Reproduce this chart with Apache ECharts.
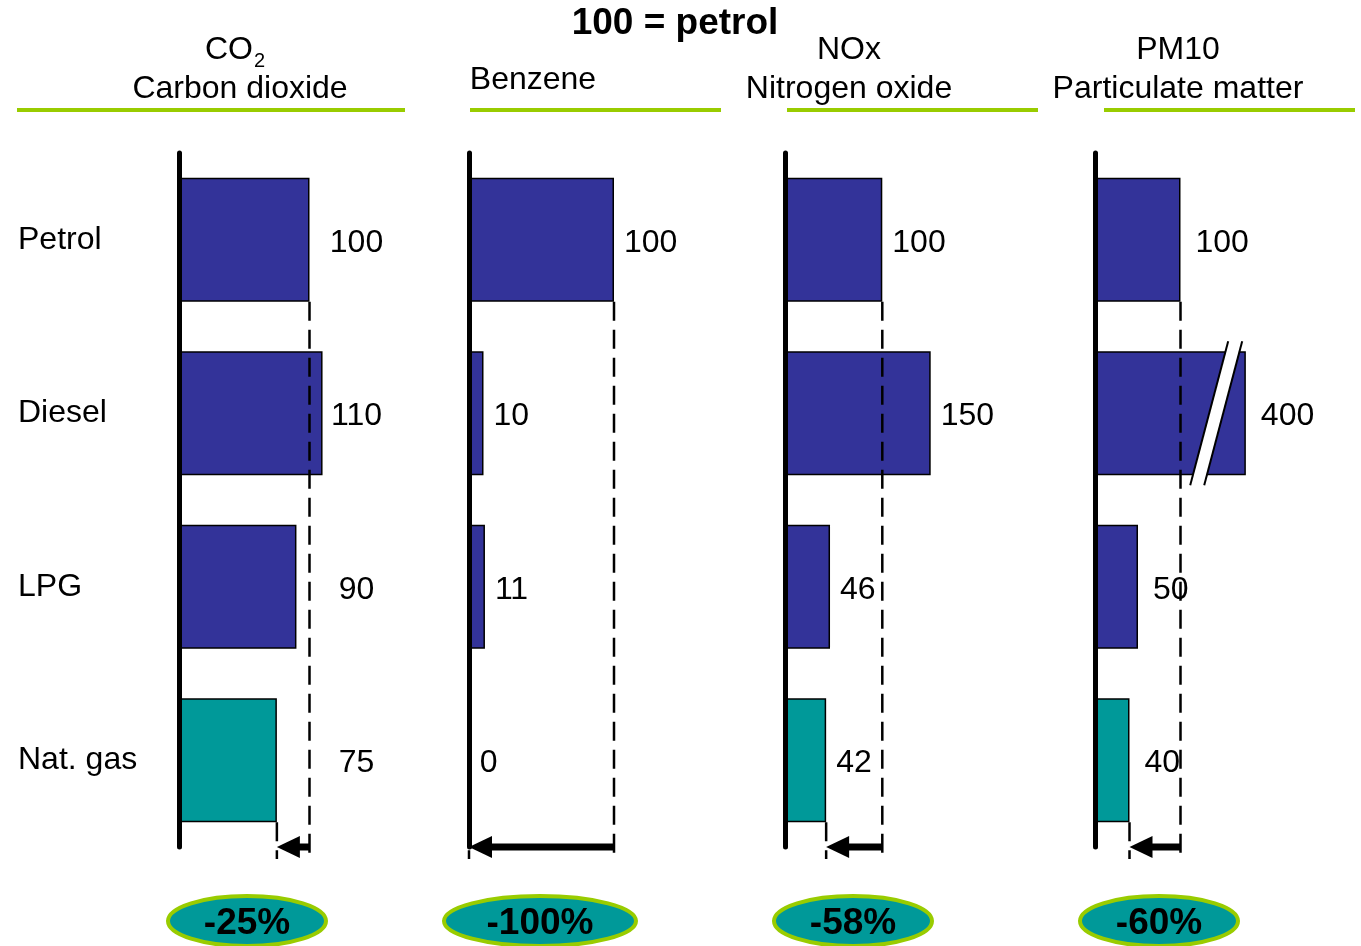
<!DOCTYPE html>
<html>
<head>
<meta charset="utf-8">
<script src="https://cdn.jsdelivr.net/npm/echarts@6/dist/echarts.min.js"></script>
<style>
html,body{margin:0;padding:0;background:#fff;}
#chart{width:1361px;height:946px;}
</style>
</head>
<body>
<div id="chart"></div>
<script>
// ---- data ----
const categories = ['Petrol', 'Diesel', 'LPG', 'Nat. gas'];
const co2 = [100, 110, 90, 75];
const benzene = [100, 10, 11, 0];
const nox = [100, 150, 46, 42];
const pm10 = [100, 400, 50, 40];
const reference = 100;           // 100 = petrol
const co2LabelColumn = 136;      // value position of the CO2 label column
const pm10BreakAt = 142;         // where the broken Diesel PM10 bar is cut

// ---- layout / style ----
const FONT = "'Liberation Sans', Arial, sans-serif";
const FS = 32;
const BLUE = '#333399';
const TEAL = '#009999';
const GREEN = '#99cc00';

const panels = [
  { values: co2,     left: 179,   pxPerUnit: 1.305, max: 150, labelMode: 'column' },
  { values: benzene, left: 469,   pxPerUnit: 1.45,  max: 110, labelMode: 'right', dist: 10 },
  { values: nox,     left: 785.5, pxPerUnit: 0.968, max: 160, labelMode: 'right', dist: 10 },
  { values: pm10,    left: 1095.5,pxPerUnit: 0.85,  max: 176, labelMode: 'right', dist: 15 }
];
const headers = [
  { lines: [null, 'Carbon dioxide'], x: 240 },
  { lines: ['Benzene'], x: 533, single: true },
  { lines: ['NOx', 'Nitrogen oxide'], x: 849 },
  { lines: ['PM10', 'Particulate matter'], x: 1178 }
];
const underlines = [[17, 405], [470, 721], [787, 1038], [1104, 1355]];
const ellipses = [{ cx: 247, rx: 79 }, { cx: 540, rx: 96 }, { cx: 853, rx: 79 }, { cx: 1159, rx: 79 }];

const grids = [], xAxes = [], yAxes = [], series = [];

function refRenderItem(params, api) {
  const ref = api.value(0), tgt = api.value(1);
  const band = api.size([0, 1])[1];
  const half = band * 0.3575;
  const pRef = api.coord([ref, 0]);
  const pTgt = api.coord([tgt, 3]);
  const yb = pTgt[1] + band / 2;
  const dash = { stroke: '#000', lineWidth: 2.5, lineDash: [19, 9], fill: null };
  return {
    type: 'group',
    children: [
      { type: 'line', shape: { x1: pRef[0], y1: pRef[1] + half, x2: pRef[0], y2: yb + 12 }, style: dash },
      { type: 'line', shape: { x1: pTgt[0], y1: pTgt[1] + half, x2: pTgt[0], y2: yb + 12 }, style: dash },
      { type: 'line', shape: { x1: pTgt[0] + 20, y1: yb, x2: pRef[0], y2: yb }, style: { stroke: '#000', lineWidth: 7 } },
      { type: 'polygon', shape: { points: [[pTgt[0], yb], [pTgt[0] + 23, yb - 11], [pTgt[0] + 23, yb + 11]] }, style: { fill: '#000' } }
    ]
  };
}

function breakRenderItem(params, api) {
  const c = api.coord([api.value(0), api.value(1)]);
  const band = api.size([0, 1])[1];
  const h = band * 0.415, skew = 19, gap = 7;
  const tl = [c[0] + skew - gap, c[1] - h], tr = [c[0] + skew + gap, c[1] - h];
  const bl = [c[0] - skew - gap, c[1] + h], br = [c[0] - skew + gap, c[1] + h];
  return {
    type: 'group',
    children: [
      { type: 'polygon', shape: { points: [tl, tr, br, bl] }, style: { fill: '#fff' } },
      { type: 'line', shape: { x1: tl[0], y1: tl[1], x2: bl[0], y2: bl[1] }, style: { stroke: '#000', lineWidth: 2 } },
      { type: 'line', shape: { x1: tr[0], y1: tr[1], x2: br[0], y2: br[1] }, style: { stroke: '#000', lineWidth: 2 } }
    ]
  };
}

panels.forEach((p, i) => {
  grids.push({ left: p.left, top: 153, width: p.max * p.pxPerUnit, height: 694 });
  xAxes.push({ gridIndex: i, type: 'value', min: 0, max: p.max, show: false });
  yAxes.push({
    gridIndex: i, type: 'category', data: categories, inverse: true, z: 10,
    axisLine: { show: true, lineStyle: { color: '#000', width: 5 } },
    axisTick: { show: false },
    splitLine: { show: false },
    axisLabel: i === 0
      ? { show: true, align: 'left', margin: 161, fontSize: FS, color: '#000', fontFamily: FONT, padding: [9, 0, 0, 0] }
      : { show: false }
  });
  series.push({
    type: 'bar', xAxisIndex: i, yAxisIndex: i,
    barWidth: 124, clip: true,
    data: p.values.map((v, k) => ({ value: v, itemStyle: { color: k === 3 ? TEAL : BLUE } })),
    itemStyle: { borderColor: '#000', borderWidth: 1.5 },
    label: p.labelMode === 'right'
      ? { show: true, position: 'right', distance: p.dist, offset: [0, 3], fontSize: FS, color: '#000', fontFamily: FONT }
      : { show: false },
    emphasis: { disabled: true },
    silent: true
  });
  if (p.labelMode === 'column') {
    series.push({
      type: 'scatter', xAxisIndex: i, yAxisIndex: i, clip: false,
      symbolSize: 1, itemStyle: { color: 'rgba(0,0,0,0)' },
      data: p.values.map((v, k) => [co2LabelColumn, k, v]),
      label: { show: true, position: 'inside', offset: [0, 3], formatter: q => String(q.data[2]), fontSize: FS, color: '#000', fontFamily: FONT, opacity: 1 },
      emphasis: { disabled: true },
      silent: true
    });
  }
  series.push({
    type: 'custom', xAxisIndex: i, yAxisIndex: i, clip: false, silent: true, z: 5,
    renderItem: refRenderItem,
    data: [[reference, p.values[3]]]
  });
});

series.push({
  type: 'custom', xAxisIndex: 3, yAxisIndex: 3, clip: false, silent: true, z: 6,
  renderItem: breakRenderItem,
  data: [[pm10BreakAt, 1]]
});

// ---- graphics: headers, underlines, ellipses ----
const graphic = [];
const txt = (x, y, text, font, align) => ({ type: 'text', x: x, y: y, style: { text: text, font: font, fill: '#000', align: align || 'center', verticalAlign: 'middle' } });
graphic.push(txt(675, 24, '100 = petrol', 'bold 37px ' + FONT));
// CO2 with subscript
graphic.push(txt(253, 50, 'CO', FS + 'px ' + FONT, 'right'));
graphic.push(txt(254, 61, '2', '20px ' + FONT, 'left'));
headers.forEach(h => {
  if (h.single) {
    graphic.push(txt(h.x, 80, h.lines[0], FS + 'px ' + FONT));
  } else {
    if (h.lines[0]) graphic.push(txt(h.x, 50, h.lines[0], FS + 'px ' + FONT));
    graphic.push(txt(h.x, 89, h.lines[1], FS + 'px ' + FONT));
  }
});
underlines.forEach(u => {
  graphic.push({ type: 'line', shape: { x1: u[0], y1: 110, x2: u[1], y2: 110 }, style: { stroke: GREEN, lineWidth: 4 } });
});
panels.forEach((p, i) => {
  const pct = Math.round((p.values[3] - reference) / reference * 100) + '%';
  const e = ellipses[i];
  graphic.push({ type: 'ellipse', shape: { cx: e.cx, cy: 921, rx: e.rx, ry: 25 }, style: { fill: TEAL, stroke: GREEN, lineWidth: 4 } });
  graphic.push(txt(e.cx, 924, pct, 'bold 37px ' + FONT));
});

const chart = echarts.init(document.getElementById('chart'), null, { renderer: 'canvas' });
chart.setOption({
  animation: false,
  backgroundColor: '#fff',
  grid: grids,
  xAxis: xAxes,
  yAxis: yAxes,
  series: series,
  graphic: graphic
});
</script>
</body>
</html>
